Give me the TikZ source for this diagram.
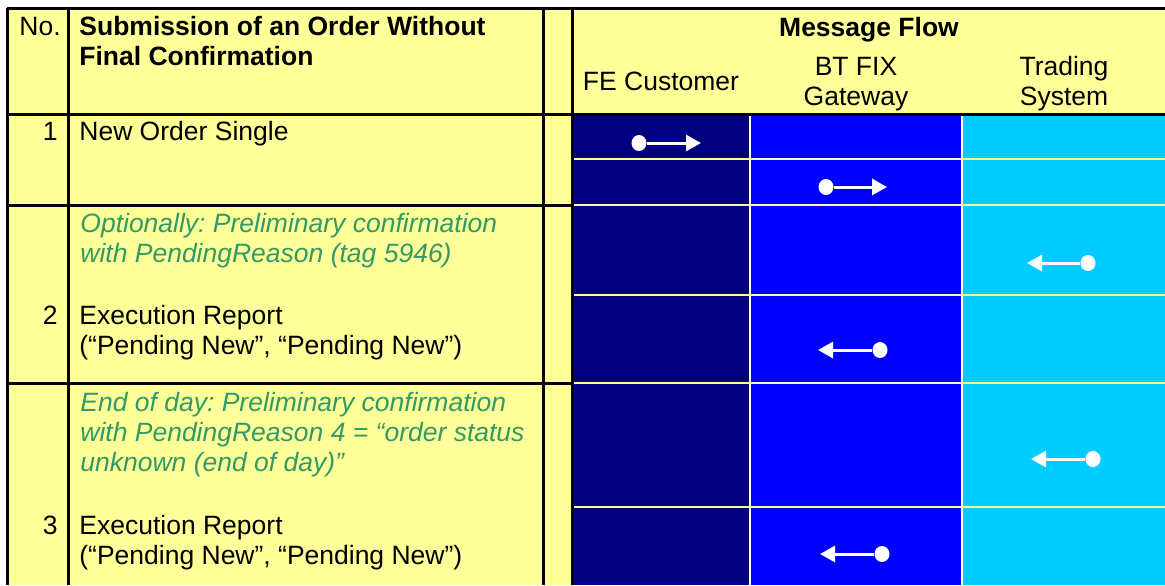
\documentclass[tikz,border=0pt]{standalone}
\usepackage{fontspec}
\setmainfont{Liberation Sans}
\usepackage{xcolor}
\usetikzlibrary{arrows.meta, positioning}
\frenchspacing
\definecolor{paleyellow}{RGB}{255,255,153}
\definecolor{navycol}{RGB}{0,0,128}
\definecolor{bluecol}{RGB}{0,0,255}
\definecolor{cyancol}{RGB}{0,204,255}
\definecolor{seagreen}{RGB}{51,153,102}
\tikzset{
    x=0.5pt, y=-0.5pt, % one unit is one pixel of the table
    every node/.style={font=\fontsize{13.25pt}{15pt}\selectfont},
    txt/.style={inner sep=0pt, anchor=base west, align=left}, % text in a cell (base = last line)
    num/.style={inner sep=0pt, anchor=base east}, % row numbers
    head/.style={inner sep=0pt, anchor=base, align=center}, % message flow heads
    note/.style={txt, text=seagreen, font=\fontsize{13.25pt}{15pt}\selectfont\itshape}, % optional steps
    dotmark/.style={ellipse, fill=white, inner sep=0pt, minimum width=7.5pt, minimum height=8pt}, % start of a message
}
\usetikzlibrary{shapes.geometric}
\tikzstyle{rule} = [line width=1.5pt, black]
\tikzstyle{msg} = [white, line width=1.5pt, -{Triangle[length=7.5pt,width=8pt]}]

\begin{document}
\begin{tikzpicture}
    \useasboundingbox (0,0) rectangle (1165,585);
    % backgrounds
    \fill[paleyellow] (7,8) rectangle (1165,114);
    \fill[paleyellow] (7,114) rectangle (572,585);
    \fill[navycol] (572,114) rectangle (750,585);
    \fill[bluecol] (750,114) rectangle (962,585);
    \fill[cyancol] (962,114) rectangle (1165,585);
    % thin lines in the message flow
    \foreach \y in {159,205,295,383,507}
        \draw[paleyellow, line width=1pt] (572,\y) -- (1165,\y);
    \foreach \x in {750,962}
        \draw[white, line width=1pt] (\x,114) -- (\x,585);
    % table rules
    \draw[rule] (7,8) -- (1165,8);
    \draw[rule] (7,114) -- (1165,114);
    \foreach \y in {205,383}
        \draw[rule] (7,\y) -- (572,\y);
    \foreach \x in {7,68,543,572}
        \draw[rule] (\x,8) -- (\x,585);

    % heads
    \node[txt] (no) at (19,35) {No.};
    \node[txt, font=\fontsize{13.25pt}{15pt}\selectfont\bfseries] (title) at (79,65) {Submission of an Order Without\\Final Confirmation};
    \node[head, font=\fontsize{13.25pt}{15pt}\selectfont\bfseries] (flow) at (869,36) {Message Flow};
    \node[head] (fe) at (661,90) {FE Customer};
    \node[head] (gw) at (856,105) {BT FIX\\Gateway};
    \node[head] (ts) at (1064,105) {Trading\\System};

    % rows
    \node[num] (n1) at (58,140) {1};
    \node[txt] (r1) at (79,140) {New Order Single};
    \node[note] (c2) at (80,262) {Optionally: Preliminary confirmation\\with PendingReason (tag 5946)};
    \node[num] (n2) at (58,324) {2};
    \node[txt] (r2) at (79,354) {Execution Report\\(“Pending New”, “Pending New”)};
    \node[note] (c3) at (80,471) {End of day: Preliminary confirmation\\with PendingReason 4 = “order status\\unknown (end of day)”};
    \node[num] (n3) at (58,534) {3};
    \node[txt] (r3) at (79,564) {Execution Report\\(“Pending New”, “Pending New”)};

    % messages
    \node[dotmark] (d1) at (639,143) {};
    \coordinate (t1) at (701,143);
    \node[dotmark] (d2) at (826,187) {};
    \coordinate (t2) at (887,187);
    \node[dotmark] (d3) at (1088,263) {};
    \coordinate (t3) at (1027,263);
    \node[dotmark] (d4) at (880,350) {};
    \coordinate (t4) at (818,350);
    \node[dotmark] (d5) at (1093,459) {};
    \coordinate (t5) at (1031,459);
    \node[dotmark] (d6) at (882,554) {};
    \coordinate (t6) at (820,554);
    \foreach \i in {1,...,6}
        \draw[msg] (d\i) -- (t\i);
\end{tikzpicture}
\end{document}
